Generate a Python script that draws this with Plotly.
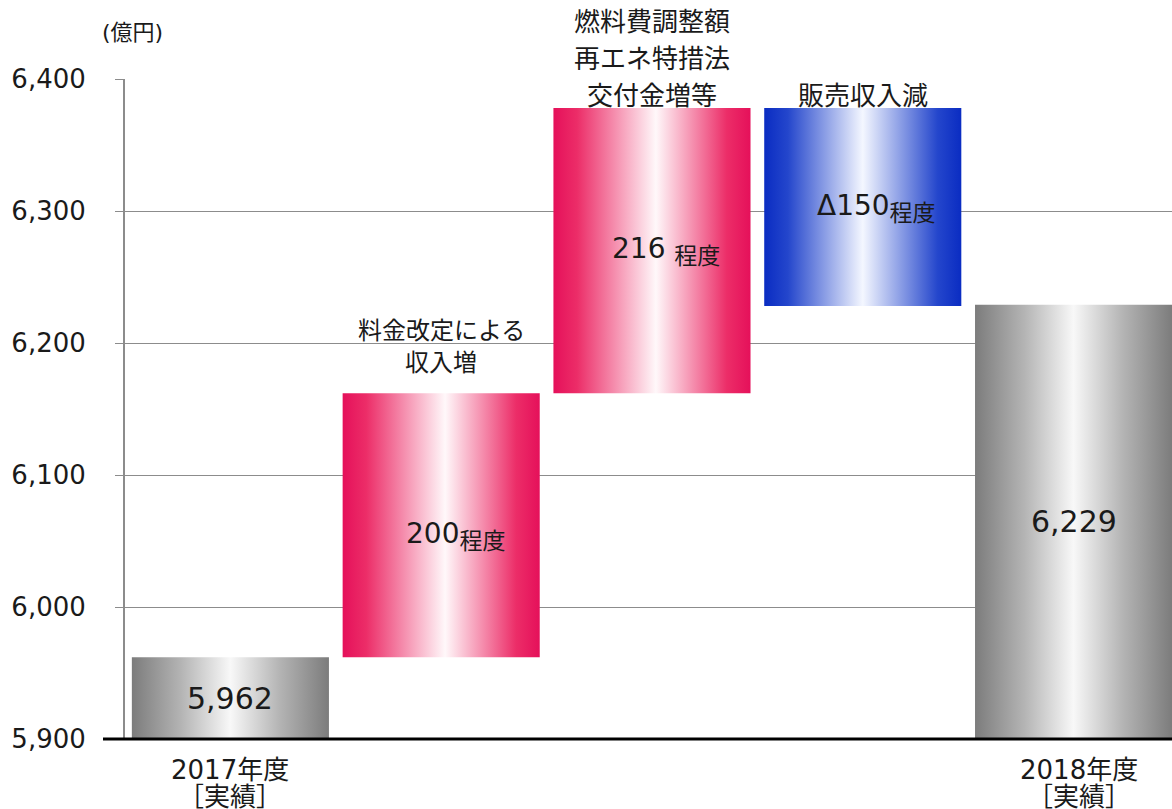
import plotly.graph_objects as go

# ---- data (億円) ----
start_label = ["2017年度", "［実績］"]
end_label = ["2018年度", "［実績］"]
start_total = 5962
end_total = 6229
deltas = [200, 216, -150]
delta_texts = ["200", "216 ", "Δ150"]
delta_suffix = "程度"
delta_headers = [
    ["料金改定による", "収入増"],
    ["燃料費調整額", "再エネ特措法", "交付金増等"],
    ["販売収入減"],
]
y_ticks = [5900, 6000, 6100, 6200, 6300, 6400]
y_ticktext = ["5,900", "6,000", "6,100", "6,200", "6,300", "6,400"]
unit_label = "(億円)"

# ---- styling ----
FONT = "DejaVu Sans, Noto Sans CJK JP, sans-serif"
TEXT = "#1a1a1a"
HALF = 0.4675
Y_MIN, Y_MAX = 5900, 6400

GRAY = [[0, "#7c7c7c"], [0.25, "#b4b4b4"], [0.5, "#f8f8f8"], [0.75, "#b4b4b4"], [1, "#7c7c7c"]]
PINK = [[0, "#e5105a"], [0.12, "#ec2d68"], [0.52, "#fff8fa"], [0.88, "#ec2d68"], [1, "#e5105a"]]
BLUE = [[0, "#0a2cc2"], [0.12, "#2446cc"], [0.5, "#f4f7ff"], [0.88, "#2446cc"], [1, "#0a2cc2"]]

header_gap = [30, 12, 12]
header_pitch = [32, 37, 37]
header_size = [24, 26, 26]


def bar_trace(xc, y0, y1, scale):
    xs = [xc - HALF, xc + HALF, xc + HALF, xc - HALF, xc - HALF]
    ys = [y0, y0, y1, y1, y0]
    return go.Scatter(
        x=xs, y=ys, mode="lines", fill="toself",
        line=dict(width=0, color="rgba(0,0,0,0)"),
        fillgradient=dict(type="horizontal", colorscale=scale),
        hoverinfo="skip", showlegend=False,
    )


fig = go.Figure()
annotations = []

# opening total
fig.add_trace(bar_trace(0, Y_MIN, start_total, GRAY))
annotations.append(dict(x=0, y=(Y_MIN + start_total) / 2, text=f"{start_total:,}",
                        showarrow=False, font=dict(size=30, color=TEXT)))

# floating deltas
level = start_total
for i, d in enumerate(deltas):
    xc = i + 1
    lo, hi = level, level + d
    fig.add_trace(bar_trace(xc, lo, hi, PINK if d > 0 else BLUE))
    top = max(lo, hi)
    mid = (lo + hi) / 2
    annotations.append(dict(
        x=xc, y=mid, xshift=14, yshift=-10 if i == 0 else 0,
        text=(f"{delta_texts[i]}<sub><span style='font-size:23px'>"
              f"{delta_suffix}</span></sub>"),
        showarrow=False, font=dict(size=28, color=TEXT)))
    lines = delta_headers[i]
    n = len(lines)
    for k, line in enumerate(lines):
        annotations.append(dict(
            x=xc, y=top, yanchor="middle",
            yshift=header_gap[i] + (n - 1 - k) * header_pitch[i],
            text=line, showarrow=False,
            font=dict(size=header_size[i], color=TEXT)))
    level = hi

# closing total
xe = len(deltas) + 1
fig.add_trace(bar_trace(xe, Y_MIN, end_total, GRAY))
annotations.append(dict(x=xe, y=(Y_MIN + end_total) / 2, text=f"{end_total:,}",
                        showarrow=False, font=dict(size=30, color=TEXT)))

# category labels under the axis
for xc, lines, dx in [(0, start_label, 0), (xe, end_label, 5)]:
    for k, line in enumerate(lines):
        annotations.append(dict(
            x=xc, y=Y_MIN, yanchor="middle", xshift=dx, yshift=-31 - 27 * k,
            text=line, showarrow=False, font=dict(size=26, color=TEXT)))

# unit label
annotations.append(dict(x=7 / 1047, y=1 + 46 / 660, xref="x domain", yref="y domain",
                        xanchor="center", yanchor="middle", text=unit_label,
                        showarrow=False, font=dict(size=22, color=TEXT)))

fig.update_layout(
    width=1172, height=809,
    margin=dict(l=125, r=0, t=79, b=70),
    paper_bgcolor="white", plot_bgcolor="white",
    font=dict(family=FONT, color=TEXT),
    annotations=annotations,
    shapes=[dict(type="line", xref="paper", yref="paper", x0=-22 / 1047, x1=1,
                 y0=0, y1=0, line=dict(color="black", width=3), layer="above")],
    xaxis=dict(range=[-0.5, 4.467], showgrid=False, zeroline=False,
               showticklabels=False, ticks="", showline=False, fixedrange=True),
    yaxis=dict(range=[Y_MIN, Y_MAX], tickvals=y_ticks, ticktext=y_ticktext,
               showgrid=True, gridcolor="#8c8c8c", gridwidth=1,
               zeroline=False, showline=True, linecolor="#8c8c8c", linewidth=2,
               ticks="outside", ticklen=8, tickcolor="#8c8c8c", tickwidth=1,
               ticklabelstandoff=24,
               tickfont=dict(size=26, color=TEXT), fixedrange=True),
)

fig.write_html("out.html")
